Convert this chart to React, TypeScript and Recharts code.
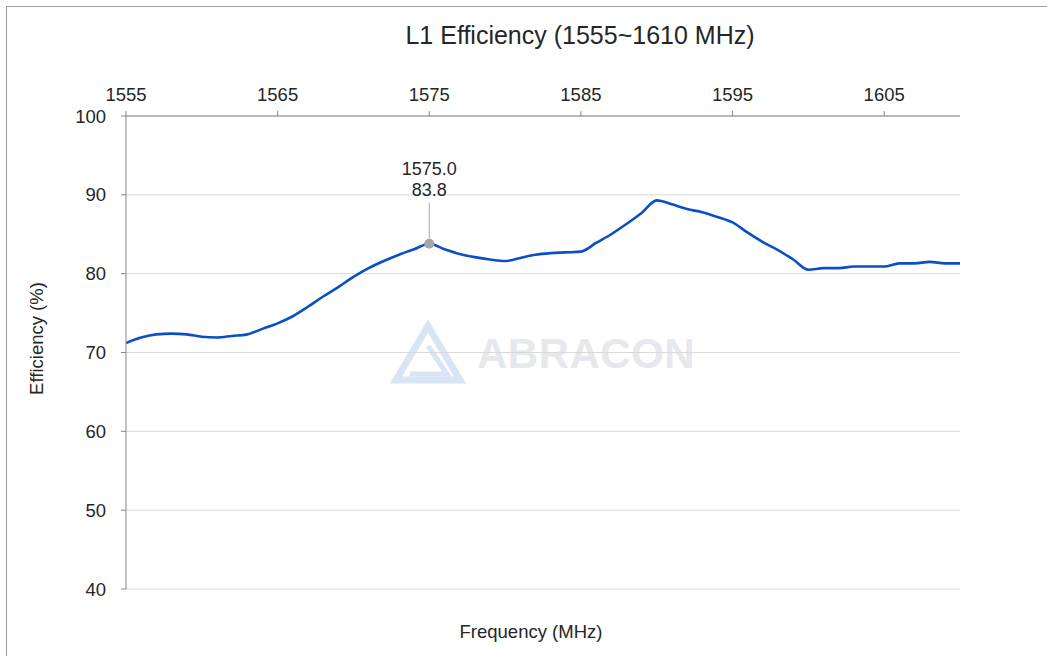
import React from "react";
import { LineChart, Line, XAxis, YAxis, CartesianGrid } from "recharts";

// frequency sweep, 1 MHz steps
const freqs = [
  1555, 1556, 1557, 1558, 1559, 1560, 1561, 1562, 1563, 1564, 1565, 1566, 1567, 1568,
  1569, 1570, 1571, 1572, 1573, 1574, 1575, 1576, 1577, 1578, 1579, 1580, 1581, 1582,
  1583, 1584, 1585, 1586, 1587, 1588, 1589, 1590, 1591, 1592, 1593, 1594, 1595, 1596,
  1597, 1598, 1599, 1600, 1601, 1602, 1603, 1604, 1605, 1606, 1607, 1608, 1609, 1610,
];
const efficiency = [
  71.2, 71.9, 72.3, 72.4, 72.3, 72.0, 71.9, 72.1, 72.3, 73.0, 73.7, 74.6, 75.8, 77.1,
  78.3, 79.6, 80.7, 81.6, 82.4, 83.1, 83.8, 83.1, 82.5, 82.1, 81.8, 81.6, 82.0, 82.4,
  82.6, 82.7, 82.8, 83.9, 85.0, 86.3, 87.7, 89.3, 88.8, 88.2, 87.8, 87.2, 86.5, 85.2,
  84.0, 83.0, 81.8, 80.5, 80.7, 80.7, 80.9, 80.9, 80.9, 81.3, 81.3, 81.5, 81.3, 81.3,
];
const xTicks = [1555, 1565, 1575, 1585, 1595, 1605];
const yTicks = [40, 50, 60, 70, 80, 90, 100];
const markedFreq = 1575;

const data = freqs.map((f, i) => ({ freq: f, eff: efficiency[i] }));

const FONT = '"Liberation Sans", Arial, sans-serif';
const TEXT = "#262626";
const FS = 18.5;

function MarkerDot(props: any) {
  const { cx, cy, payload, index } = props;
  if (payload.freq !== markedFreq) return <g key={`d-${index}`} />;
  return (
    <g key={`d-${index}`}>
      <line x1={cx} y1={cy - 41} x2={cx} y2={cy - 5} stroke="#a6a6a6" strokeWidth={1} />
      <circle cx={cx} cy={cy} r={5} fill="#a6a6a6" />
      <text x={cx} y={cy - 69} textAnchor="middle" fontSize={18} fill={TEXT} fontFamily={FONT}>
        {payload.freq.toFixed(1)}
      </text>
      <text x={cx} y={cy - 48} textAnchor="middle" fontSize={18} fill={TEXT} fontFamily={FONT}>
        {payload.eff.toFixed(1)}
      </text>
    </g>
  );
}

function YLabel() {
  return (
    <text
      x={0}
      y={0}
      transform="translate(43 338.5) rotate(-90)"
      textAnchor="middle"
      fontSize={FS}
      fill={TEXT}
      fontFamily={FONT}
    >
      Efficiency (%)
    </text>
  );
}

export default function App() {
  return (
    <div style={{ position: "relative", width: 1047, height: 656, overflow: "hidden", background: "#fff", fontFamily: FONT }}>
      <style>{"body{margin:0}"}</style>
      <div style={{ position: "absolute", left: 6, top: 6, width: 1200, height: 800, border: "1px solid #a0a0a0" }} />
      {/* watermark */}
      <svg width={1047} height={656} style={{ position: "absolute", left: 0, top: 0 }}>
        <g fill="none" stroke="#d9e4f5" strokeWidth={7} strokeLinejoin="miter">
          <polygon points="428,326 460,380 396,380" />
          <polyline points="428,346 447,374 410,374" strokeWidth={5} />
        </g>
        <text x={477} y={368} fontSize={42} fontWeight="bold" fill="#e6e8ee" fontFamily={FONT} letterSpacing={0.5}>
          ABRACON
        </text>
      </svg>
      <div style={{ position: "absolute", left: 0, width: 1160, top: 21, textAlign: "center", fontSize: 25, color: TEXT }}>
        L1 Efficiency (1555~1610 MHz)
      </div>
      <div style={{ position: "absolute", left: 0, width: 1062, top: 621, textAlign: "center", fontSize: FS, color: TEXT }}>
        Frequency (MHz)
      </div>
      <div style={{ position: "absolute", left: 0, top: 0 }}>
        <LineChart width={1047} height={656} data={data} margin={{ top: 76, left: 66, right: 87, bottom: 67 }}>
          <CartesianGrid vertical={false} stroke="#d9d9d9" />
          <XAxis
            dataKey="freq"
            type="number"
            orientation="top"
            domain={[1555, 1610]}
            ticks={xTicks}
            height={40}
            axisLine={{ stroke: "#868686" }}
            tickLine={{ stroke: "#868686" }}
            tickSize={5}
            tickMargin={10}
            tick={{ fontSize: FS, fill: TEXT, fontFamily: FONT }}
            allowDataOverflow
          />
          <YAxis
            domain={[40, 100]}
            ticks={yTicks}
            width={60}
            axisLine={{ stroke: "#868686" }}
            tickLine={{ stroke: "#868686" }}
            tickSize={5}
            tickMargin={15}
            tick={{ fontSize: FS, fill: TEXT, fontFamily: FONT }}
            label={<YLabel />}
          />
          <Line
            type="monotone"
            dataKey="eff"
            stroke="#0b4fc6"
            strokeWidth={2.6}
            dot={MarkerDot}
            activeDot={false}
            isAnimationActive={false}
          />
        </LineChart>
      </div>
    </div>
  );
}
